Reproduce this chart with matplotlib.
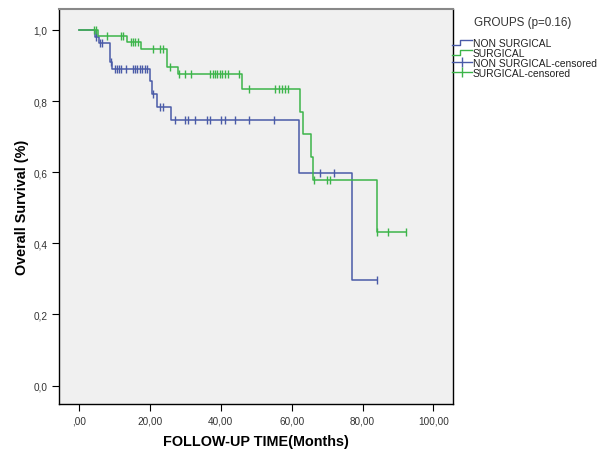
import numpy as np
import matplotlib
matplotlib.use('Agg')
import matplotlib.pyplot as plt
from matplotlib.lines import Line2D
from matplotlib.legend_handler import HandlerBase

plt.rcParams['font.family'] = ['Liberation Sans', 'DejaVu Sans']

# Kaplan-Meier steps (time in months, survival)
ns_times = [0, 4.5, 5.6, 8.8, 9.4, 20.0, 20.7, 21.9, 26.1, 62.1, 77.1, 84.2]
ns_surv = [1.0, 0.981, 0.962, 0.911, 0.889, 0.855, 0.821, 0.784, 0.747, 0.597, 0.298, 0.298]
ns_cens = [4.7, 5.9, 6.5, 9.0, 10.1, 10.7, 11.3, 11.9, 13.3, 15.2, 15.8, 16.5,
           17.2, 17.9, 18.6, 19.2, 20.8, 22.8, 23.6, 27.0, 29.9, 30.8, 32.7,
           36.0, 36.9, 40.2, 41.2, 44.0, 48.0, 55.0, 68.1, 72.0, 84.2]

s_times = [0, 5.5, 13.6, 17.6, 24.9, 28.0, 45.9, 62.3, 63.1, 65.4, 66.1, 84.0, 92.3]
s_surv = [1.0, 0.982, 0.966, 0.945, 0.897, 0.877, 0.834, 0.770, 0.707, 0.642, 0.578, 0.433, 0.433]
s_cens = [4.2, 4.7, 7.9, 11.8, 12.4, 14.6, 15.3, 15.9, 16.6, 20.9, 23.0, 23.6,
          25.7, 28.3, 29.9, 31.7, 36.9, 37.7, 38.3, 39.0, 39.7, 40.4, 41.1, 42.1,
          45.1, 48.0, 55.3, 56.3, 57.2, 58.1, 59.0, 66.3, 69.9, 70.8, 84.2, 87.3, 92.3]

x_ticks = [0, 20, 40, 60, 80, 100]
x_labels = [',00', '20,00', '40,00', '60,00', '80,00', '100,00']
y_ticks = [0.0, 0.2, 0.4, 0.6, 0.8, 1.0]
y_labels = ['0,0', '0,2', '0,4', '0,6', '0,8', '1,0']

blue = '#4a5ba8'
green = '#3cb54a'


def level_at(times, surv, t):
    i = np.searchsorted(times, t, side='right') - 1
    return np.array(surv)[i]


class HandlerStep(HandlerBase):
    def create_artists(self, legend, orig, xd, yd, w, h, fontsize, trans):
        xs = [-xd, -xd + w * 0.4, -xd + w * 0.4, -xd + w]
        ys = [-yd + h * 0.15, -yd + h * 0.15, -yd + h * 0.85, -yd + h * 0.85]
        ln = Line2D(xs, ys, color=orig.get_color(), lw=1.0, transform=trans)
        return [ln]


fig = plt.figure(figsize=(6.1, 4.52), dpi=100)
ax = fig.add_axes([0.0967, 0.104, 0.6459, 0.874])
ax.set_facecolor('#f0f0f0')

l1, = ax.step(ns_times, ns_surv, where='post', color=blue, lw=1.1)
l2, = ax.step(s_times, s_surv, where='post', color=green, lw=1.1)
ax.plot(ns_cens, level_at(ns_times, ns_surv, ns_cens), ls='none', marker='|',
        ms=6, mew=1.0, color=blue)
ax.plot(s_cens, level_at(s_times, s_surv, s_cens), ls='none', marker='|',
        ms=6, mew=1.0, color=green)

ax.set_xlim(-5.6, 105.5)
ax.set_ylim(-0.052, 1.059)
ax.set_xticks(x_ticks)
ax.set_xticklabels(x_labels)
ax.set_yticks(y_ticks)
ax.set_yticklabels(y_labels)
ax.tick_params(labelsize=7.2, colors='#333333', length=5, width=0.8)
ax.tick_params(axis='both', color='black')
for s in ['left', 'bottom', 'right']:
    ax.spines[s].set_color('black')
    ax.spines[s].set_linewidth(1.0)
ax.spines['top'].set_color('#888888')
ax.spines['top'].set_linewidth(1.5)

ax.set_xlabel('FOLLOW-UP TIME(Months)', fontsize=10.4, fontweight='bold', labelpad=6)
ax.set_ylabel('Overall Survival (%)', fontsize=10.4, fontweight='bold', labelpad=3)

# legend title drawn as plain text, entries below it
fig.text(474 / 610, 1 - 23 / 452, 'GROUPS (p=0.16)', fontsize=8.4, color='#333333',
         ha='left', va='center')

h3 = Line2D([], [], color=blue, lw=1.0, marker='|', ms=7, mew=1.0)
h4 = Line2D([], [], color=green, lw=1.0, marker='|', ms=7, mew=1.0)
leg = fig.legend([l1, l2, h3, h4],
                 ['NON SURGICAL', 'SURGICAL', 'NON SURGICAL-censored', 'SURGICAL-censored'],
                 handler_map={l1: HandlerStep(), l2: HandlerStep()},
                 loc='upper left', bbox_to_anchor=(452 / 610, 1 - 39 / 452),
                 frameon=False, fontsize=7.4, handlelength=1.9, handletextpad=0.15,
                 labelspacing=0.0, borderpad=0, borderaxespad=0)
for t in leg.get_texts():
    t.set_color('#222222')

fig.savefig('out.png', dpi=100)
